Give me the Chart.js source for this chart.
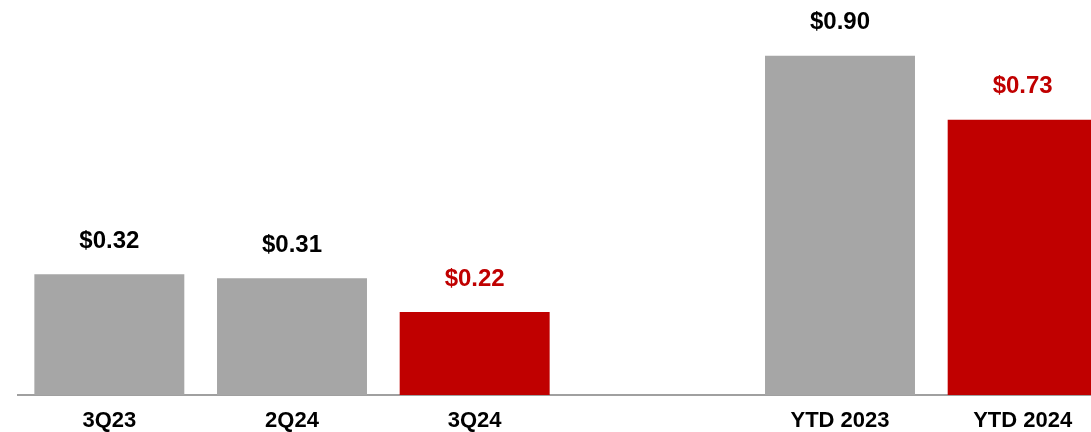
<!DOCTYPE html>
<html>
<head>
<meta charset="utf-8">
<script src="https://cdn.jsdelivr.net/npm/chart.js@4/dist/chart.umd.min.js"></script>
<style>
  html, body { margin: 0; padding: 0; background: #fff; overflow: hidden; }
  #wrap { position: relative; width: 1114px; height: 432px; }
</style>
</head>
<body>
<div id="wrap"><canvas id="chart" width="1114" height="432"></canvas></div>
<script>
// Quarterly / YTD values (the blank slot is the gap between groups)
var categories = ['3Q23', '2Q24', '3Q24', '', 'YTD 2023', 'YTD 2024'];
var values = [0.32, 0.31, 0.22, null, 0.90, 0.73];
var barColors = ['#a6a6a6', '#a6a6a6', '#c00000', '#a6a6a6', '#a6a6a6', '#c00000'];
var labelColors = ['#000000', '#000000', '#c00000', '#000000', '#000000', '#c00000'];

var FONT = "'Liberation Sans Narrow', 'Arial Narrow', 'Liberation Sans', Arial, sans-serif";

// value labels above each bar
var valueLabels = {
  id: 'valueLabels',
  afterDatasetsDraw: function (chart) {
    var ctx = chart.ctx;
    var meta = chart.getDatasetMeta(0);
    ctx.save();
    ctx.font = 'bold 24px ' + FONT;
    ctx.textAlign = 'center';
    ctx.textBaseline = 'middle';
    meta.data.forEach(function (bar, i) {
      var v = values[i];
      if (v === null) return;
      ctx.fillStyle = labelColors[i];
      ctx.fillText('$' + v.toFixed(2), bar.x, bar.y - 33);
    });
    ctx.restore();
  }
};

new Chart(document.getElementById('chart'), {
  type: 'bar',
  data: {
    labels: categories,
    datasets: [{
      data: values,
      backgroundColor: barColors,
      barPercentage: 0.821,
      categoryPercentage: 1.0
    }]
  },
  options: {
    responsive: false,
    animation: false,
    layout: { padding: { left: 18, right: 0, top: 18, bottom: 0 } },
    plugins: { legend: { display: false }, tooltip: { enabled: false } },
    scales: {
      x: {
        grid: { display: false, drawTicks: false },
        border: { display: true, color: '#a0a0a0', width: 2 },
        ticks: {
          color: '#000',
          padding: 13,
          font: { family: FONT, size: 22, weight: 'bold' },
          maxRotation: 0,
          autoSkip: false
        },
        afterFit: function (scale) { scale.height = 37; }
      },
      y: {
        display: false,
        min: 0,
        max: 1.0
      }
    }
  },
  plugins: [valueLabels]
});
</script>
</body>
</html>
